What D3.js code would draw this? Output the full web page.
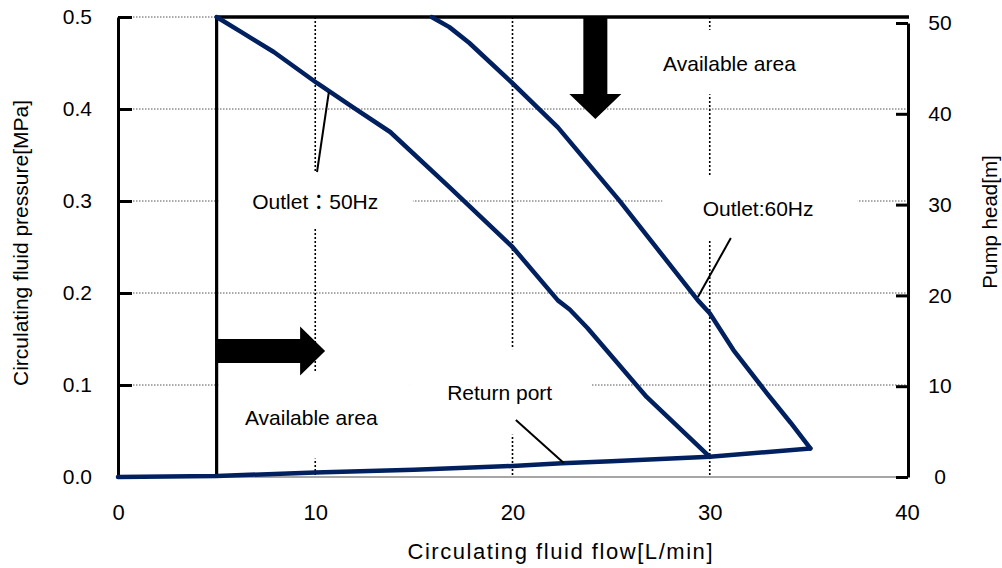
<!DOCTYPE html>
<html><head><meta charset="utf-8">
<script src="https://cdn.jsdelivr.net/npm/d3@7"></script>
<style>
body{margin:0;background:#fff}
svg{display:block}
text{font-family:"Liberation Sans",Arial,"Noto Sans CJK JP",sans-serif;fill:#000}
</style>
</head><body>
<svg id="c" width="1002" height="568"></svg>
<script>
// ---- data ----
const xTicks = [0, 10, 20, 30, 40];
const yTicks = [0.0, 0.1, 0.2, 0.3, 0.4, 0.5];
const yRightTicks = [0, 10, 20, 30, 40, 50];

const outlet50Flow = [5, 6.3, 7.9, 10.1, 11.9, 13.8, 16.8, 20, 22.3, 22.9, 23.8, 26.8, 30];
const outlet50Pres = [0.5, 0.483, 0.462, 0.428, 0.402, 0.375, 0.315, 0.25, 0.192, 0.182, 0.162, 0.087, 0.022];

const outlet60Flow = [15.9, 16.8, 17.8, 20, 22.3, 25.4, 29.4, 30, 31.2, 32.9, 34.1, 35.1];
const outlet60Pres = [0.5, 0.489, 0.472, 0.428, 0.38, 0.301, 0.192, 0.178, 0.138, 0.091, 0.059, 0.031];

const returnFlow = [0, 5, 10, 15, 20, 22.5, 25, 30, 35.1];
const returnPres = [0, 0.001, 0.005, 0.008, 0.012, 0.015, 0.017, 0.022, 0.031];

const limitFlow = 5;          // minimum flow boundary
const limitPres = 0.5;        // maximum pressure boundary

const labelTexts = ["Available area", "Outlet：50Hz", "Outlet:60Hz", "Return port", "Available area"];
const labelX = [31.0, 10.0, 32.45, 19.35, 9.8];
const labelY = [0.45, 0.299, 0.292, 0.0915, 0.065];

// white boxes behind the text frames (hide gridlines) : in data units
const boxX0 = [26.5, 5.1, 27.6, 14.8, 5.1];
const boxX1 = [35.6, 14.95, 37.5, 24.0, 14.8];
const boxY0 = [0.416, 0.271, 0.258, 0.046, 0.020];
const boxY1 = [0.486, 0.332, 0.328, 0.139, 0.114];

// leader lines
const leaderFrom = [[10.09, 0.3315], [29.4, 0.1957], [20.17, 0.062]];
const leaderTo   = [[10.69, 0.4185], [31.07, 0.2598], [22.6, 0.0152]];

// arrows
const downArrow = {x: 24.2, y0: 0.5, y1: 0.389};
const rightArrow = {y: 0.137, x0: 5, x1: 10.5};

// ---- drawing ----
const svg = d3.select("#c");
const x = d3.scaleLinear().domain([0, 40]).range([118, 907]);
const y = d3.scaleLinear().domain([0, 0.5]).range([477, 17]);
const yR = d3.scaleLinear().domain([0, 50]).range([477, 23]);

// gridlines
svg.append("g").selectAll("line").data(yTicks.filter(v => v > 0)).join("line")
  .attr("x1", x(0)).attr("x2", x(40)).attr("y1", d => y(d)).attr("y2", d => y(d))
  .attr("stroke", "#555").attr("stroke-width", 1).attr("stroke-dasharray", "1.5,1.5");
svg.append("g").selectAll("line").data(xTicks.filter(v => v > 0 && v < 40)).join("line")
  .attr("x1", d => x(d)).attr("x2", d => x(d)).attr("y1", y(0.5)).attr("y2", y(0))
  .attr("stroke", "#000").attr("stroke-width", 1.6).attr("stroke-dasharray", "2,2");

// text frame boxes
svg.append("g").selectAll("rect").data(boxX0).join("rect")
  .attr("x", (d, i) => x(boxX0[i])).attr("width", (d, i) => x(boxX1[i]) - x(boxX0[i]))
  .attr("y", (d, i) => y(boxY1[i])).attr("height", (d, i) => y(boxY0[i]) - y(boxY1[i]))
  .attr("fill", "#fff");

// bottom axis (grey)
svg.append("line").attr("x1", x(0)).attr("x2", x(40)).attr("y1", y(0)).attr("y2", y(0))
  .attr("stroke", "#a6a6a6").attr("stroke-width", 2);

// left axis
const gL = svg.append("g").attr("transform", `translate(${x(0)},0)`)
  .call(d3.axisLeft(y).tickValues(yTicks).tickFormat(d3.format(".1f")).tickSizeInner(-14).tickSizeOuter(0).tickPadding(26));
gL.select(".domain").attr("stroke", "#000").attr("stroke-width", 3);
gL.selectAll(".tick line").attr("stroke", "#000").attr("stroke-width", 3);
gL.selectAll(".tick text").attr("font-size", 21).attr("font-family", "Liberation Sans, Arial, sans-serif").attr("x", -26);

// right axis
const gR = svg.append("g").attr("transform", `translate(${x(40) + 1},0)`)
  .call(d3.axisRight(yR).tickValues(yRightTicks).tickSizeInner(-12).tickSizeOuter(0).tickPadding(0));
gR.select(".domain").attr("stroke", "#000").attr("stroke-width", 3);
gR.selectAll(".tick line").attr("stroke", "#000").attr("stroke-width", 3);
gR.selectAll(".tick text").attr("font-size", 21).attr("font-family", "Liberation Sans, Arial, sans-serif")
  .attr("text-anchor", "middle").attr("x", 32);

// bottom axis labels
const gB = svg.append("g").attr("transform", `translate(0,${y(0)})`)
  .call(d3.axisBottom(x).tickValues(xTicks).tickSize(0).tickPadding(0));
gB.select(".domain").remove();
gB.selectAll(".tick text").attr("font-size", 22).attr("font-family", "Liberation Sans, Arial, sans-serif")
  .attr("dy", null).attr("y", 35).attr("dominant-baseline", "central");

// axis titles
svg.append("text").attr("transform", `translate(20,${y(0.25) - 4}) rotate(-90)`)
  .attr("text-anchor", "middle").attr("dominant-baseline", "central").attr("font-size", 21)
  .text("Circulating fluid pressure[MPa]");
svg.append("text").attr("transform", `translate(989,222) rotate(-90)`)
  .attr("text-anchor", "middle").attr("dominant-baseline", "central").attr("font-size", 20.5)
  .text("Pump head[m]");
svg.append("text").attr("x", 560).attr("y", 551)
  .attr("text-anchor", "middle").attr("dominant-baseline", "central").attr("font-size", 22)
  .attr("textLength", 305).attr("lengthAdjust", "spacing")
  .text("Circulating fluid flow[L/min]");

// boundary lines (available area)
svg.append("line").attr("x1", x(limitFlow)).attr("x2", x(limitFlow)).attr("y1", y(limitPres) - 1).attr("y2", y(0))
  .attr("stroke", "#000").attr("stroke-width", 3.2);
svg.append("line").attr("x1", x(limitFlow) - 1.5).attr("x2", x(40) + 2).attr("y1", y(limitPres)).attr("y2", y(limitPres))
  .attr("stroke", "#000").attr("stroke-width", 3.5);

// curves
const line = d3.line().x(d => x(d[0])).y(d => y(d[1]));
const curves = [
  d3.zip(outlet50Flow, outlet50Pres),
  d3.zip(outlet60Flow, outlet60Pres),
  d3.zip(returnFlow, returnPres)
];
svg.append("g").selectAll("path").data(curves).join("path")
  .attr("d", line).attr("fill", "none").attr("stroke", "#002060").attr("stroke-width", 4.5)
  .attr("stroke-linejoin", "round").attr("stroke-linecap", "round");

// leader lines
svg.append("g").selectAll("line").data(leaderFrom).join("line")
  .attr("x1", d => x(d[0])).attr("y1", d => y(d[1]))
  .attr("x2", (d, i) => x(leaderTo[i][0])).attr("y2", (d, i) => y(leaderTo[i][1]))
  .attr("stroke", "#000").attr("stroke-width", 2);

// arrows
const dx = x(downArrow.x), dy0 = y(downArrow.y0), dy1 = y(downArrow.y1);
svg.append("path").attr("fill", "#000").attr("d",
  `M${dx - 12},${dy0} L${dx + 12},${dy0} L${dx + 12},${dy1 - 25} L${dx + 26},${dy1 - 25} L${dx},${dy1} L${dx - 26},${dy1 - 25} L${dx - 12},${dy1 - 25} Z`);
const ry = y(rightArrow.y), rx0 = x(rightArrow.x0), rx1 = x(rightArrow.x1);
svg.append("path").attr("fill", "#000").attr("d",
  `M${rx0},${ry - 12} L${rx1 - 25},${ry - 12} L${rx1 - 25},${ry - 24.5} L${rx1},${ry} L${rx1 - 25},${ry + 24.5} L${rx1 - 25},${ry + 12} L${rx0},${ry + 12} Z`);

// labels
svg.append("g").selectAll("text").data(labelTexts).join("text")
  .attr("x", (d, i) => x(labelX[i])).attr("y", (d, i) => y(labelY[i]))
  .attr("text-anchor", "middle").attr("dominant-baseline", "central").attr("font-size", 21)
  .text(d => d);
</script>
</body></html>
